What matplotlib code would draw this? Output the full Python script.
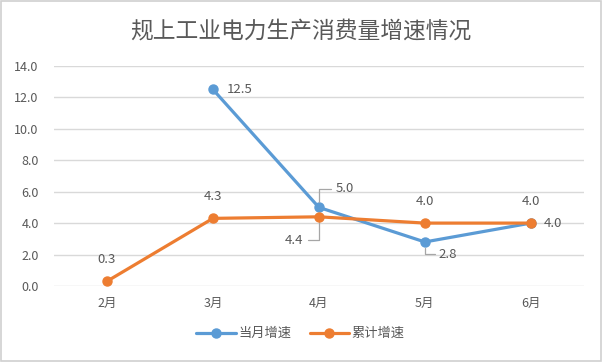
import matplotlib
matplotlib.use('Agg')
import matplotlib.pyplot as plt
from matplotlib.patches import Rectangle

plt.rcParams['font.family'] = ['Noto Sans CJK SC', 'DejaVu Sans']

# data
months = ['2月', '3月', '4月', '5月', '6月']
monthly = [None, 12.5, 5.0, 2.8, 4.0]      # 当月增速
cumulative = [0.3, 4.3, 4.4, 4.0, 4.0]     # 累计增速
yticks = [0, 2, 4, 6, 8, 10, 12, 14]

BLUE = '#5b9bd5'
ORANGE = '#ed7d31'
GRAY = '#595959'
GRID = '#d9d9d9'

fig = plt.figure(figsize=(6.02, 3.62), dpi=100)
fig.patch.set_facecolor('white')
fig.patches.append(Rectangle((0.002, 0.003), 0.996, 0.994, transform=fig.transFigure,
                             fill=False, edgecolor='#d0d0d0', linewidth=1.2))
ax = fig.add_axes([0.0897, 0.210, 0.880, 0.608])

x = list(range(len(months)))
mx = [i for i, v in zip(x, monthly) if v is not None]
my = [v for v in monthly if v is not None]

ax.plot(mx, my, color=BLUE, linewidth=2.3, marker='o', markersize=6.5,
        solid_capstyle='round', label='当月增速', zorder=3)
ax.plot(x, cumulative, color=ORANGE, linewidth=2.3, marker='o', markersize=6.5,
        solid_capstyle='round', label='累计增速', zorder=4)

ax.set_xlim(-0.5, len(months) - 0.5)
ax.set_ylim(0, 14)
ax.set_yticks(yticks)
ax.set_yticklabels([f'{v:.1f}' for v in yticks])
ax.set_xticks(x)
ax.set_xticklabels(months)
ax.tick_params(length=0, labelsize=9, colors=GRAY, pad=8)
ax.tick_params(axis='y', pad=11)
for s in ax.spines.values():
    s.set_visible(False)
ax.grid(axis='y', color=GRID, linewidth=1)
ax.set_axisbelow(True)

lbl = dict(fontsize=9.5, color=GRAY, textcoords='offset points')
lead = dict(arrowstyle='-', color='#a6a6a6', lw=0.9, shrinkA=1, shrinkB=4)
elbow = 'angle,angleA=0,angleB=90,rad=0'

# labels for cumulative
ax.annotate(f'{cumulative[0]:.1f}', (0, cumulative[0]), xytext=(0, 11), ha='center', va='bottom', **lbl)
ax.annotate(f'{cumulative[1]:.1f}', (1, cumulative[1]), xytext=(0, 11), ha='center', va='bottom', **lbl)
ax.annotate(f'{cumulative[2]:.1f}', (2, cumulative[2]), xytext=(-11, -17), ha='right', va='center',
            arrowprops=dict(connectionstyle=elbow, **lead), **lbl)
ax.annotate(f'{cumulative[3]:.1f}', (3, cumulative[3]), xytext=(0, 11), ha='center', va='bottom', **lbl)
ax.annotate(f'{cumulative[4]:.1f}', (4, cumulative[4]), xytext=(0, 11), ha='center', va='bottom', **lbl)

# labels for monthly
ax.annotate(f'{monthly[1]:.1f}', (1, monthly[1]), xytext=(10, 0), ha='left', va='center', **lbl)
ax.annotate(f'{monthly[2]:.1f}', (2, monthly[2]), xytext=(12, 13.5), ha='left', va='center',
            arrowprops=dict(connectionstyle=elbow, **lead), **lbl)
ax.annotate(f'{monthly[3]:.1f}', (3, monthly[3]), xytext=(10, -9), ha='left', va='center',
            arrowprops=dict(connectionstyle=elbow, **lead), **lbl)
ax.annotate(f'{monthly[4]:.1f}', (4, monthly[4]), xytext=(9, 0), ha='left', va='center', **lbl)

fig.text(0.5, 0.915, '规上工业电力生产消费量增速情况', ha='center', va='center',
         fontsize=16.4, color=GRAY)

leg = fig.legend(loc='center', bbox_to_anchor=(0.499, 0.078),
                 ncol=2, frameon=False, fontsize=9.5, handlelength=3.0, columnspacing=1.4,
                 handletextpad=0.2)
for t in leg.get_texts():
    t.set_color(GRAY)

fig.savefig('out.png', dpi=100)
